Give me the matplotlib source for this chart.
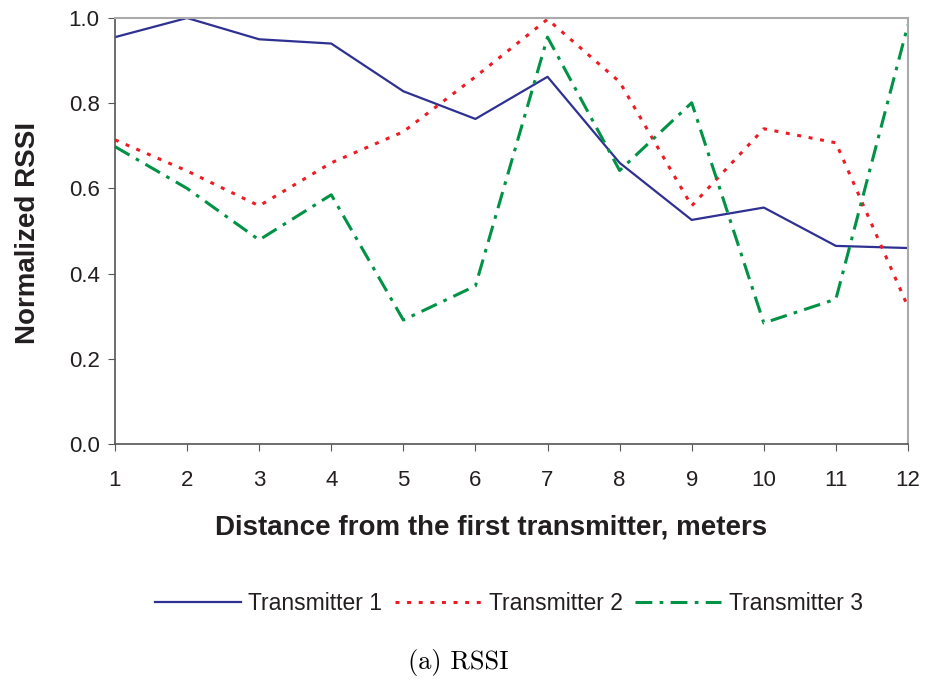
import matplotlib
matplotlib.use("Agg")
import matplotlib.pyplot as plt

distance = [1, 2, 3, 4, 5, 6, 7, 8, 9, 10, 11, 12]
tx1 = [0.955, 1.0, 0.95, 0.94, 0.828, 0.763, 0.862, 0.66, 0.526, 0.555, 0.465, 0.46]
tx2 = [0.714, 0.641, 0.559, 0.66, 0.733, 0.862, 0.997, 0.85, 0.559, 0.74, 0.707, 0.322]
tx3 = [0.698, 0.60, 0.479, 0.585, 0.291, 0.371, 0.955, 0.642, 0.801, 0.284, 0.34, 0.984]
series_names = ["Transmitter 1", "Transmitter 2", "Transmitter 3"]
yticks = [0.0, 0.2, 0.4, 0.6, 0.8, 1.0]

plt.rcParams['font.family'] = ['Liberation Sans', 'DejaVu Sans']
plt.rcParams['text.color'] = '#231F20'
plt.rcParams['xtick.labelcolor'] = '#231F20'
plt.rcParams['ytick.labelcolor'] = '#231F20'
plt.rcParams['axes.labelcolor'] = '#231F20'

fig = plt.figure(figsize=(9.25, 6.84), dpi=100)
ax = fig.add_axes([0.1243, 0.3509, 0.8573, 0.6228])

ax.plot(distance, tx1, color='#2E3192', lw=1.6, ls='-', label=series_names[0])
ax.plot(distance, tx2, color='#ED1C24', lw=2.2, ls=(0, (1.3, 2.5)), label=series_names[1])
ax.plot(distance, tx3, color='#009245', lw=2.2, ls=(0, (5.5, 2.4, 1.2, 2.4)), label=series_names[2])

ax.set_xlim(1, 12)
ax.set_ylim(0, 1.0)
ax.set_xticks(distance)
ax.set_yticks(yticks)
ax.set_yticklabels([f"{v:.1f}" for v in yticks])
ax.tick_params(axis='both', labelsize=16, length=5, color='#555555', direction='out')
ax.tick_params(axis='x', pad=14)
ax.tick_params(axis='y', pad=6)
for s in ['left', 'bottom']:
    ax.spines[s].set_color('#555555')
    ax.spines[s].set_linewidth(1.2)
for s in ['top', 'right']:
    ax.spines[s].set_color('#AAAAAA')
    ax.spines[s].set_linewidth(1.5)

ax.set_xlabel("Distance from the first transmitter, meters", fontsize=20, fontweight='bold')
ax.set_ylabel("Normalized RSSI", fontsize=20, fontweight='bold')
ax.xaxis.set_label_coords(0.4748, -0.1667)
ax.yaxis.set_label_coords(-0.0927, 0.4965)

fig.legend(loc='center', bbox_to_anchor=(0.550, 0.118), ncol=3, frameon=False,
           fontsize=16.5, handlelength=3.75, columnspacing=0.55, handletextpad=0.33)

fig.text(0.496, 0.031, "(a) RSSI", fontsize=19, family='cmr10', ha='center', va='center', color='black')

fig.savefig("out.png", dpi=100)
